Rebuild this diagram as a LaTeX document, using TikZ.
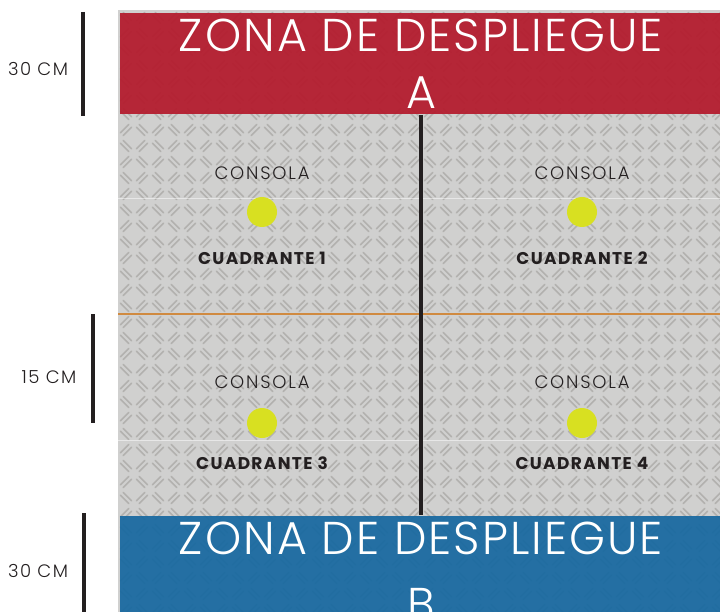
\documentclass[tikz,border=0pt]{standalone}
\usepackage{fontspec}
\setmainfont{Poppins}
\newfontfamily\thinfont{Poppins Light}
\usetikzlibrary{positioning}
\definecolor{zonered}{HTML}{B41A2C}
\definecolor{zoneblue}{HTML}{1768A0}
\definecolor{plate}{HTML}{D0D0CF}
\definecolor{ridge}{HTML}{8F8C88}
\definecolor{consoledot}{HTML}{D8E021}
\definecolor{ink}{HTML}{231F20}
\definecolor{seam}{HTML}{D08A40}
\begin{document}
\begin{tikzpicture}[
        x=1pt, y=-1pt,
        zone/.style={
            text=white,
            align=center,
            inner sep=0pt,
            font=\thinfont\fontsize{46}{57}\selectfont\addfontfeature{LetterSpace=4.5}
        },
        console/.style={
            text=ink,
            inner sep=0pt,
            font=\thinfont\fontsize{18}{18}\selectfont\addfontfeature{LetterSpace=10}
        },
        quadrant/.style={
            text=ink,
            inner sep=0pt,
            font=\bfseries\fontsize{17}{17}\selectfont\addfontfeature{LetterSpace=8}
        },
        dot/.style={
            circle,
            fill=consoledot,
            minimum size=30pt,
            inner sep=0pt
        },
        measure/.style={
            text=ink,
            inner sep=0pt,
            font=\thinfont\fontsize{18}{18}\selectfont\addfontfeature{LetterSpace=8}
        },
        bar/.style={
            draw=ink,
            line width=4pt
        }
    ]
        \useasboundingbox (0,0) rectangle (720,612);

        % Diamond plate
        \fill[plate] (118,10) rectangle (720,612);
        \begin{scope}
            \clip (118,10) rectangle (720,612);
            \foreach \i in {0,...,38}{
                \foreach \j in {0,...,38}{
                    \pgfmathsetmacro\ang{mod(\i+\j,2)==0 ? 45 : -45}
                    \draw[ridge, line width=1.6pt, line cap=round, opacity=0.45]
                        (126+16*\i,18+16*\j) ++(\ang+90:2) +(\ang:-6) -- +(\ang:6)
                        ++(\ang-90:4) +(\ang:-6) -- +(\ang:6);
                }
            }
        \end{scope}

        % Deployment zones
        \fill[zonered, opacity=0.93] (120,13) rectangle (720,114);
        \fill[zoneblue, opacity=0.93] (120,516) rectangle (720,612);
        \node[zone] (zoneA) at (421,64) {ZONA DE DESPLIEGUE\\A};
        \node[zone] (zoneB) at (421,571) {ZONA DE DESPLIEGUE\\[9pt]B};

        % Seams and divider
        \coordinate (seamL) at (118,314);
        \coordinate (seamR) at (720,314);
        \draw[seam, line width=1.6pt] (seamL) -- (seamR);
        \draw[white, opacity=0.5] (118,198) -- (720,198);
        \draw[white, opacity=0.5] (118,440) -- (720,440);
        \coordinate (divTop) at (421,115);
        \coordinate (divBot) at (421,515);
        \draw[bar] (divTop) -- (divBot);

        % Quadrants
        \node[console] (consola1) at (262,173) {CONSOLA};
        \node[dot] (dot1) at (262,212) {};
        \node[quadrant] (cuad1) at (262,258) {CUADRANTE 1};
        \node[console] (consola2) at (582,173) {CONSOLA};
        \node[dot] (dot2) at (582,212) {};
        \node[quadrant] (cuad2) at (582,258) {CUADRANTE 2};
        \node[console] (consola3) at (262,382) {CONSOLA};
        \node[dot] (dot3) at (262,423) {};
        \node[quadrant] (cuad3) at (262,463) {CUADRANTE 3};
        \node[console] (consola4) at (582,382) {CONSOLA};
        \node[dot] (dot4) at (582,423) {};
        \node[quadrant] (cuad4) at (582,463) {CUADRANTE 4};

        % Measures on the left
        \coordinate (barAtop) at (83,12);
        \coordinate (barAbot) at (83,116);
        \draw[bar] (barAtop) -- (barAbot);
        \node[measure] (measA) at (38,69) {30 CM};
        \coordinate (barMtop) at (93,314);
        \coordinate (barMbot) at (93,423);
        \draw[bar] (barMtop) -- (barMbot);
        \node[measure] (measM) at (49,377) {15 CM};
        \coordinate (barBtop) at (84,513);
        \coordinate (barBbot) at (84,612);
        \draw[bar] (barBtop) -- (barBbot);
        \node[measure] (measB) at (38,571) {30 CM};
    \end{tikzpicture}
\end{document}
